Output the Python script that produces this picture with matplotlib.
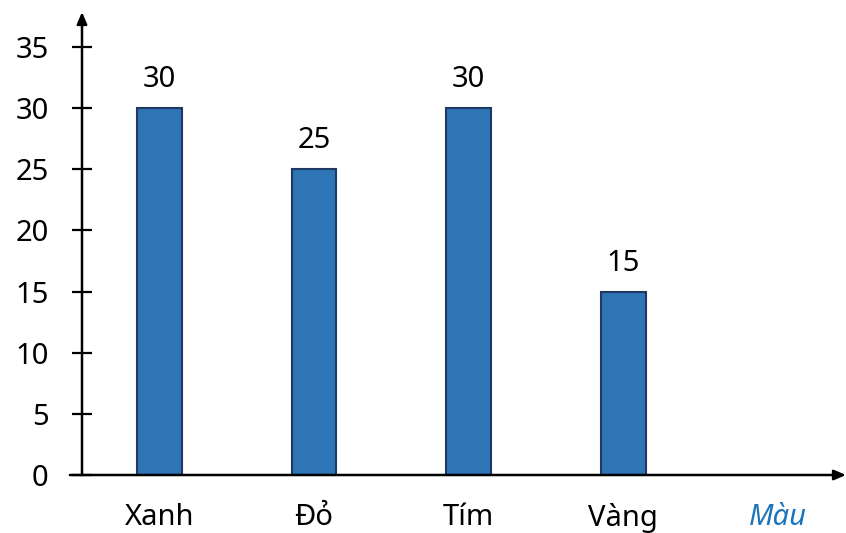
import matplotlib
matplotlib.use("Agg")
import matplotlib.pyplot as plt

# Data
colours = ["Xanh", "Đỏ", "Tím", "Vàng"]
counts = [30, 25, 30, 15]
yticks = [0, 5, 10, 15, 20, 25, 30, 35]
axis_name = "Màu"

plt.rcParams['font.family'] = ['Noto Sans', 'DejaVu Sans']

fig = plt.figure(figsize=(8.46, 5.33), dpi=100)
W, H = 846, 533
ax = fig.add_axes([82 / W, (H - 475) / H, (846 - 82) / W, (475 - 12) / H])
xmin, xmax = -0.5, 4.44
ymin, ymax = 0, 37.86
ax.set_xlim(xmin, xmax)
ax.set_ylim(ymin, ymax)
for s in ax.spines.values():
    s.set_visible(False)

pos = list(range(len(colours)))
ax.bar(pos, counts, width=0.29, color="#2E75B6", edgecolor="#1F3864", linewidth=1.5, zorder=3)
for x, v in zip(pos, counts):
    ax.annotate(str(v), (x, v), xytext=(0, 10), textcoords="offset points",
                ha="center", va="bottom", fontsize=21)

# axes with arrows
arrow = dict(arrowstyle="-|>,head_length=0.7,head_width=0.3", color="black", lw=1.8,
             shrinkA=0, shrinkB=0)
ax.annotate("", xy=(xmin, ymax), xytext=(xmin, ymin), arrowprops=arrow, annotation_clip=False)
ax.annotate("", xy=(xmax, 0), xytext=(xmin - 0.078, 0), arrowprops=arrow, annotation_clip=False)

ax.set_yticks(yticks)
ax.tick_params(axis="y", direction="inout", length=14, width=1.6, pad=17, labelsize=21)
ax.set_xticks(pos + [4])
ax.set_xticklabels(colours + [axis_name])
ax.tick_params(axis="x", length=0, pad=20, labelsize=21)
lab = ax.get_xticklabels()[-1]
lab.set_color("#1C75BC")
lab.set_style("italic")

fig.savefig("out.png", dpi=100)
